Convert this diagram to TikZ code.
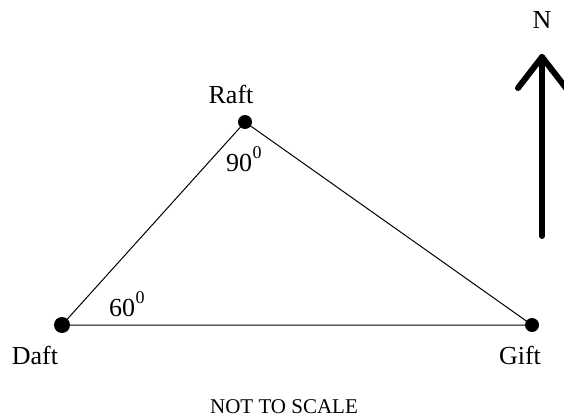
\documentclass[tikz,border=0pt]{standalone}
\usepackage{fontspec}
\setmainfont{Liberation Serif}
\newcommand\dsup[1]{\kern0.5pt\raisebox{13pt}{\fontsize{18}{20}\selectfont #1}}
\begin{document}
\begin{tikzpicture}[x=1pt,y=-1pt,
  dot/.style={circle,fill=black,inner sep=0pt,minimum size=14pt},
  lbl/.style={font=\fontsize{26}{28}\selectfont,inner sep=0pt},
  ang/.style={font=\fontsize{26}{28}\selectfont,inner sep=0pt,anchor=base west},
  edge/.style={line width=1pt}]
\useasboundingbox (0,0) rectangle (564,417);
\node[dot] (R) at (245,122) {};
\node[dot,minimum width=16pt,minimum height=14pt] (D) at (62,325) {};
\node[dot] (G) at (532,325) {};
\draw[edge] (D.center) -- (R.center) -- (G.center) -- (D.center);
\node[lbl,anchor=base] (rl) at (231,103) {Raft};
\node[lbl,anchor=base] (dl) at (35,364) {Daft};
\node[lbl,anchor=base] (gl) at (520,364) {Gift};
\node[ang] (a90) at (226,171) {90\dsup{0}};
\node[ang] (a60) at (109,316) {60\dsup{0}};
\node[font=\fontsize{21}{23}\selectfont,inner sep=0pt,anchor=base] (nts) at (284,413) {NOT TO SCALE};
\node[font=\fontsize{26}{28}\selectfont,inner sep=0pt,anchor=base] (N) at (542,29) {N};
\coordinate (ab) at (542,236);
\coordinate (at) at (542,57);
\coordinate (awl) at (518,88);
\coordinate (awr) at (566,88);
\draw[line width=6pt,line cap=round,line join=round] (ab) -- (at);
\draw[line width=6pt,line cap=round,line join=round] (awl) -- (at) -- (awr);
\end{tikzpicture}
\end{document}
